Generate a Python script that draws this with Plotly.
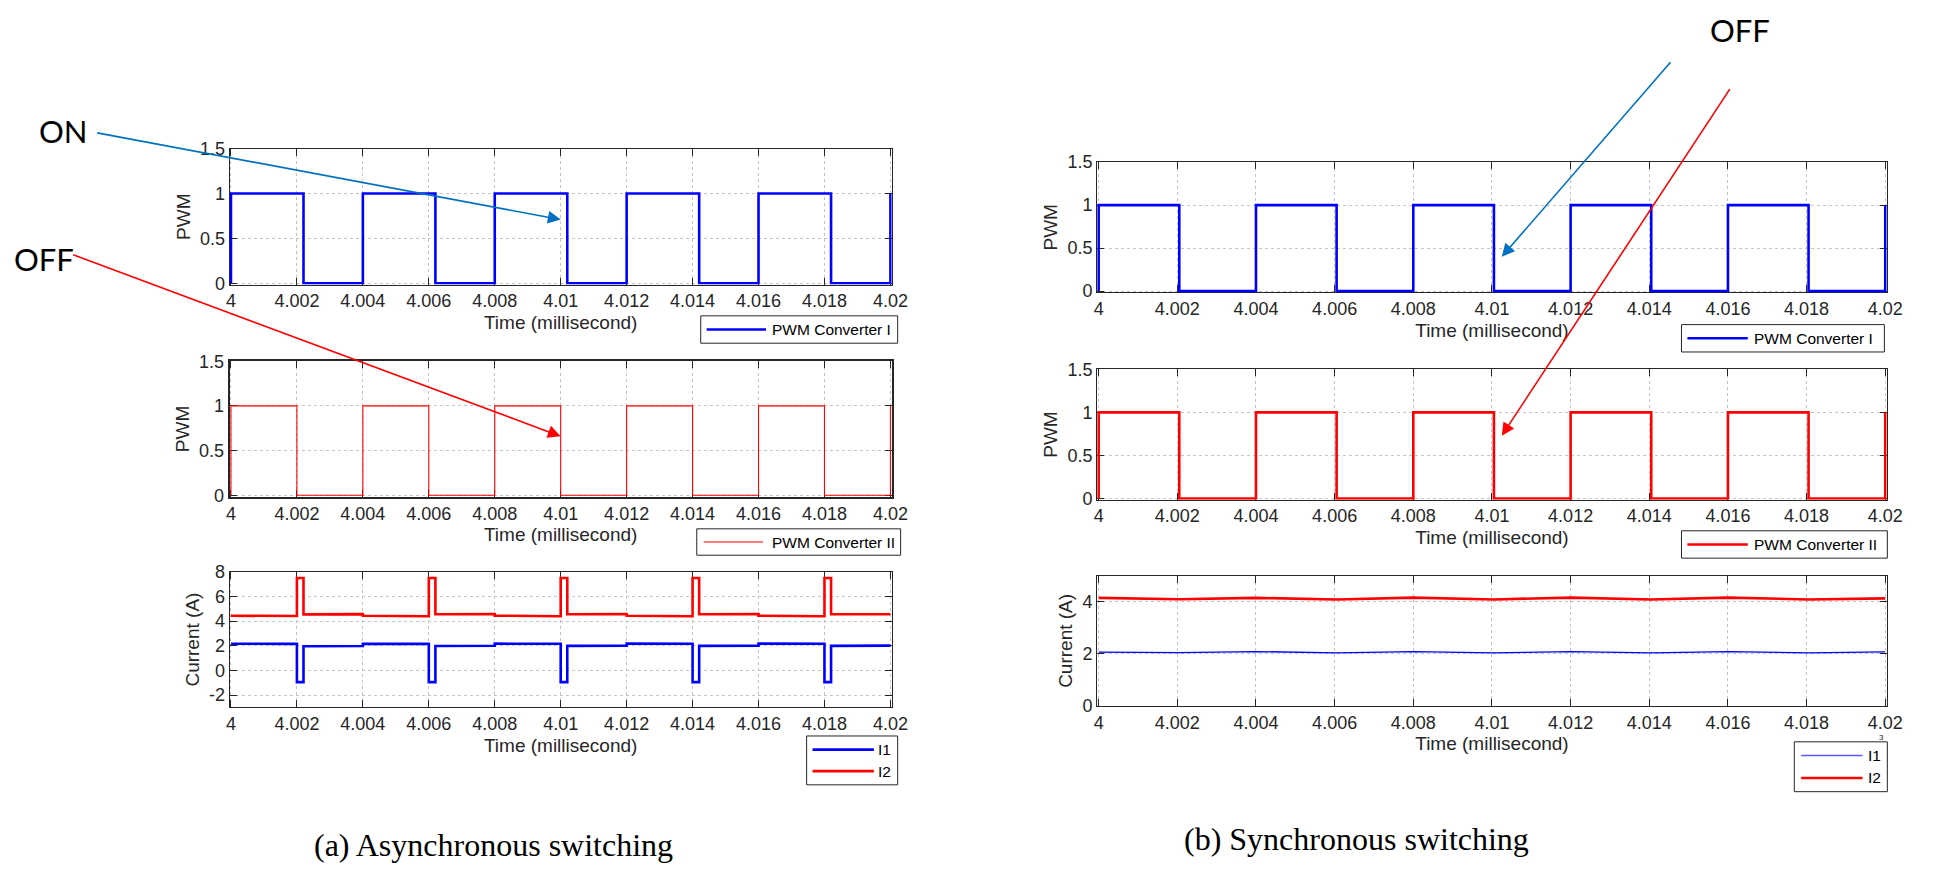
import plotly.graph_objects as go

# ---------------------------------------------------------------- data
time_ticks = [4.0, 4.002, 4.004, 4.006, 4.008, 4.010, 4.012, 4.014, 4.016, 4.018, 4.020]
time_tick_text = ["4", "4.002", "4.004", "4.006", "4.008", "4.01",
                  "4.012", "4.014", "4.016", "4.018", "4.02"]
pwm_ticks = [0, 0.5, 1, 1.5]
pwm_tick_text = ["0", "0.5", "1", "1.5"]
async_cur_ticks = [-2, 0, 2, 4, 6, 8]
sync_cur_ticks = [0, 2, 4]

# (a) asynchronous switching: gate signals (step edges, held until next edge)
async_pwm1_t = [4.0, 4.0, 4.0022, 4.004, 4.0062, 4.008, 4.0102, 4.012, 4.0142, 4.016, 4.0182, 4.02]
async_pwm1 = [0, 1, 0, 1, 0, 1, 0, 1, 0, 1, 0, 1]
async_pwm2_t = [4.0, 4.0, 4.002, 4.004, 4.006, 4.008, 4.010, 4.012, 4.014, 4.016, 4.018, 4.02]
async_pwm2 = [0, 1, 0, 1, 0, 1, 0, 1, 0, 1, 0, 1]

# (a) branch currents
async_i_t = [4.0, 4.002, 4.002, 4.0022, 4.0022, 4.004,
             4.004, 4.006, 4.006, 4.0062, 4.0062, 4.008,
             4.008, 4.010, 4.010, 4.0102, 4.0102, 4.012,
             4.012, 4.014, 4.014, 4.0142, 4.0142, 4.016,
             4.016, 4.018, 4.018, 4.0182, 4.0182, 4.02]
async_i1 = [2.16, 2.15, -0.95, -0.95, 1.96, 1.98,
            2.16, 2.15, -0.95, -0.95, 1.98, 2.00,
            2.17, 2.16, -0.95, -0.95, 1.99, 2.00,
            2.17, 2.16, -0.95, -0.95, 1.99, 2.00,
            2.17, 2.16, -0.95, -0.95, 1.99, 2.01]
async_i2 = [4.44, 4.41, 7.50, 7.50, 4.55, 4.57,
            4.44, 4.40, 7.50, 7.50, 4.56, 4.58,
            4.44, 4.40, 7.50, 7.50, 4.56, 4.58,
            4.44, 4.40, 7.50, 7.50, 4.56, 4.57,
            4.44, 4.40, 7.50, 7.50, 4.56, 4.56]

# (b) synchronous switching: both converters share the same edges
sync_pwm_t = [4.0, 4.0, 4.00205, 4.004, 4.00605, 4.008, 4.01005, 4.012, 4.01405, 4.016, 4.01805, 4.02]
sync_pwm1 = [0, 1, 0, 1, 0, 1, 0, 1, 0, 1, 0, 1]
sync_pwm2 = [0, 1, 0, 1, 0, 1, 0, 1, 0, 1, 0, 1]

sync_i_t = [4.0, 4.00205, 4.004, 4.00605, 4.008, 4.01005, 4.012, 4.01405, 4.016, 4.01805, 4.02]
sync_i1 = [2.07, 2.05, 2.09, 2.04, 2.09, 2.04, 2.09, 2.04, 2.09, 2.04, 2.08]
sync_i2 = [4.15, 4.10, 4.15, 4.09, 4.16, 4.09, 4.16, 4.09, 4.16, 4.09, 4.13]

# annotated switching instant
event_t = [4.0100, 4.0100, 4.01025, 4.01025]
event_level = [0.71, 0.66, 0.40, 0.73]

# ---------------------------------------------------------------- styling
W, H = 1935, 873
BLUE, RED = "#0000FF", "#FF0000"
ARROW_BLUE = "#0070C0"
INK = "#262626"
SANS = "Arial, Liberation Sans, sans-serif"


def fx(px):
    return px / W


def fy(py):
    return 1 - py / H


# subplot boxes in pixels: (left, top, right, bottom)
boxes = {
    1: (228, 142, 897, 281),
    2: (228, 359.5, 897, 498),
    3: (228, 575, 897, 713.7),
    4: (1104.5, 155.7, 1902.5, 289),
    5: (1104.5, 367.7, 1902.5, 501.3),
    6: (1104.5, 579, 1902.5, 712.3),
}

fig = go.Figure()


def add(n, t, v, color, width, name, shape="linear"):
    fig.add_trace(go.Scatter(
        x=t, y=v, mode="lines", name=name, showlegend=False,
        line=dict(color=color, width=width, shape=shape),
        xaxis="x" if n == 1 else f"x{n}", yaxis="y" if n == 1 else f"y{n}",
        hoverinfo="x+y+name"))


add(1, async_pwm1_t, async_pwm1, BLUE, 2.6, "PWM Converter I", "hv")
add(2, async_pwm2_t, async_pwm2, RED, 1.1, "PWM Converter II", "hv")
add(3, async_i_t, async_i1, BLUE, 2.6, "I1")
add(3, async_i_t, async_i2, RED, 2.6, "I2")
add(4, sync_pwm_t, sync_pwm1, BLUE, 2.6, "PWM Converter I", "hv")
add(5, sync_pwm_t, sync_pwm2, RED, 2.6, "PWM Converter II", "hv")
add(6, sync_i_t, sync_i1, BLUE, 1.3, "I1")
add(6, sync_i_t, sync_i2, RED, 2.6, "I2")

layout = dict(
    width=W, height=H, margin=dict(l=0, r=0, t=0, b=0),
    paper_bgcolor="white", plot_bgcolor="white", showlegend=False,
    font=dict(family=SANS, color=INK),
)

axis_common = dict(
    showline=True, linecolor=INK, mirror="allticks", ticks="inside",
    ticklen=7, tickcolor=INK, tickwidth=1, showgrid=True,
    gridcolor="#c4c4c4", griddash="dot", gridwidth=1, zeroline=False,
    tickfont=dict(family=SANS, size=18, color=INK), layer="below traces",
)

y_setup = {
    1: ([-0.015, 1.5], pwm_ticks, pwm_tick_text, "PWM"),
    2: ([-0.015, 1.5], pwm_ticks, pwm_tick_text, "PWM"),
    3: ([-3, 8], async_cur_ticks, [str(v) for v in async_cur_ticks], "Current (A)"),
    4: ([-0.015, 1.5], pwm_ticks, pwm_tick_text, "PWM"),
    5: ([-0.015, 1.5], pwm_ticks, pwm_tick_text, "PWM"),
    6: ([0, 5], sync_cur_ticks, [str(v) for v in sync_cur_ticks], "Current (A)"),
}

for n, (l, t, r, b) in boxes.items():
    xa = "xaxis" if n == 1 else f"xaxis{n}"
    ya = "yaxis" if n == 1 else f"yaxis{n}"
    yr, yt, ytt, ytitle = y_setup[n]
    lw = 2 if n == 2 else 1
    layout[xa] = dict(
        axis_common, linewidth=lw, domain=[fx(l), fx(r)],
        anchor="y" if n == 1 else f"y{n}",
        range=[3.99996, 4.02004], tickvals=time_ticks, ticktext=time_tick_text,
        title=dict(text="Time (millisecond)", standoff=5,
                   font=dict(family=SANS, size=19, color=INK)),
    )
    layout[ya] = dict(
        axis_common, linewidth=lw, domain=[fy(b), fy(t)],
        anchor="x" if n == 1 else f"x{n}",
        range=yr, tickvals=yt, ticktext=ytt,
        title=dict(text=ytitle, standoff=4,
                   font=dict(family=SANS, size=19, color=INK)),
    )

fig.update_layout(**layout)

# ---------------------------------------------------------------- legends
shapes = []
annotations = []


def label(xp, yp, text, font, xanchor="center", yanchor="middle"):
    annotations.append(dict(xref="paper", yref="paper", x=fx(xp), y=fy(yp), text=text,
                            showarrow=False, xanchor=xanchor, yanchor=yanchor, font=font))


def legend(box, sample_x, text_x, items):
    x0, y0, x1, y1 = box
    shapes.append(dict(type="rect", xref="paper", yref="paper",
                       x0=fx(x0), x1=fx(x1), y0=fy(y1), y1=fy(y0),
                       line=dict(color=INK, width=1), fillcolor="white", layer="above"))
    for name, color, width, yc in items:
        shapes.append(dict(type="line", xref="paper", yref="paper",
                           x0=fx(sample_x[0]), x1=fx(sample_x[1]), y0=fy(yc), y1=fy(yc),
                           line=dict(color=color, width=width), layer="above"))
        label(text_x, yc, name, dict(family=SANS, size=15.5, color="black"), xanchor="left")


legend((704, 313, 903, 341), (710, 770), 774, [("PWM Converter I", BLUE, 2.6, 327)])
legend((700, 531, 906, 558), (707, 767), 774, [("PWM Converter II", RED, 1.1, 544.5)])
legend((811, 743, 903, 793), (817, 879), 881, [("I1", BLUE, 2.6, 757), ("I2", RED, 2.6, 779)])
legend((1695, 322, 1900, 350), (1701, 1762), 1766, [("PWM Converter I", BLUE, 2.6, 336)])
legend((1695, 533, 1903, 561), (1701, 1762), 1766, [("PWM Converter II", RED, 2.6, 547)])
legend((1809, 749, 1903, 800), (1816, 1878), 1881, [("I1", "#5a5aff", 1.6, 763), ("I2", RED, 2.6, 786)])

# exponent marker of the lower-right time axis
label(1897, 745, "3", dict(family=SANS, size=8, color=INK))

# ---------------------------------------------------------------- call-outs
callout_font = dict(family="Lato, Open Sans, sans-serif", size=31, color="black")
label(60, 124, "ON", callout_font)
label(40, 255, "OFF", callout_font)
label(1754, 20, "OFF", callout_font)

arrow_specs = [
    ("x", "y", event_t[0], event_level[0], -465, -87, ARROW_BLUE),
    ("x2", "y2", event_t[1], event_level[1], -489, -182, RED),
    ("x4", "y4", event_t[2], event_level[2], 170, -196, ARROW_BLUE),
    ("x5", "y5", event_t[3], event_level[3], 229, -348, RED),
]
for xr, yr, xv, yv, ax, ay, col in arrow_specs:
    annotations.append(dict(xref=xr, yref=yr, x=xv, y=yv, ax=ax, ay=ay,
                            axref="pixel", ayref="pixel", text="", showarrow=True,
                            arrowhead=2, arrowsize=1.6, arrowwidth=1.6,
                            arrowcolor=col, standoff=0))

# ---------------------------------------------------------------- captions
serif = dict(family="Liberation Serif, Times New Roman, serif", size=32, color="black")
label(495, 855, "(a) Asynchronous switching", serif)
label(1367, 848, "(b) Synchronous switching", serif)

fig.update_layout(shapes=shapes, annotations=annotations)
fig.write_html("out.html")
